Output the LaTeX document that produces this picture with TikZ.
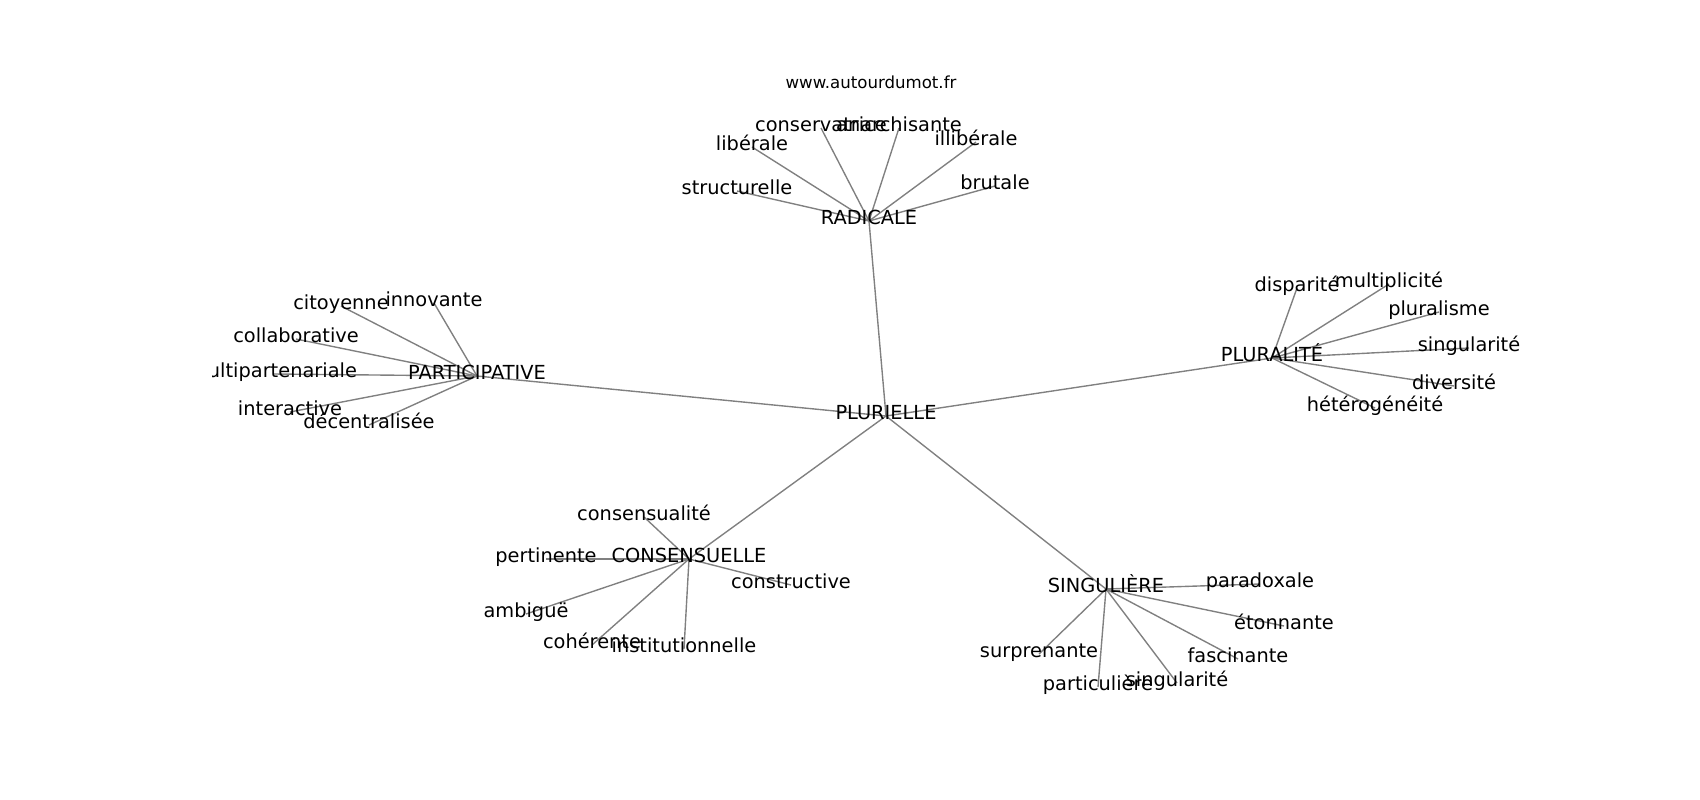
\documentclass[tikz,border=0pt]{standalone}
\usepackage{fontspec}
\setmainfont{DejaVu Sans}
\usetikzlibrary{backgrounds}

\begin{document}
\begin{tikzpicture}[x=0.254mm, y=-0.254mm,
        mot/.style={inner sep=0pt, font=\fontsize{14}{17}\selectfont, text height=0.76em, text depth=0.24em},
        lien/.style={gray, line width=1pt}]
        \useasboundingbox (0,0) rectangle (1700,800);
        \node [font=\fontsize{12}{14}\selectfont, anchor=base, inner sep=0pt] (titre) at (871,88) {www.autourdumot.fr};
        \begin{scope}
        \clip (212.5,96) rectangle (1530,712);
        \node [mot] (plurielle) at (886,416) {PLURIELLE};
        % radicale
        \node [mot] (radicale) at (869,221) {RADICALE};
        \node [mot] (structurelle) at (737,191) {structurelle};
        \node [mot] (liberale) at (752,147) {libérale};
        \node [mot] (conservatrice) at (821,128) {conservatrice};
        \node [mot] (anarchisante) at (899,128) {anarchisante};
        \node [mot] (illiberale) at (976,142) {illibérale};
        \node [mot] (brutale) at (995,186) {brutale};
        % participative
        \node [mot] (participative) at (477,376) {PARTICIPATIVE};
        \node [mot] (citoyenne) at (341,306) {citoyenne};
        \node [mot] (innovante) at (434,303) {innovante};
        \node [mot] (collaborative) at (296,339) {collaborative};
        \node [mot] (multipartenariale) at (273,374) {multipartenariale};
        \node [mot] (interactive) at (290,412) {interactive};
        \node [mot] (decentralisee) at (369,425) {décentralisée};
        % pluralite
        \node [mot] (pluralite) at (1272,358) {PLURALITÉ};
        \node [mot] (disparite) at (1297,288) {disparité};
        \node [mot] (multiplicite) at (1389,284) {multiplicité};
        \node [mot] (pluralisme) at (1439,312) {pluralisme};
        \node [mot] (singularite) at (1469,348) {singularité};
        \node [mot] (diversite) at (1454,386) {diversité};
        \node [mot] (heterogeneite) at (1375,408) {hétérogénéité};
        % consensuelle
        \node [mot] (consensuelle) at (689,559) {CONSENSUELLE};
        \node [mot] (consensualite) at (644,517) {consensualité};
        \node [mot] (pertinente) at (546,559) {pertinente};
        \node [mot] (constructive) at (791,585) {constructive};
        \node [mot] (ambigue) at (526,614) {ambiguë};
        \node [mot] (coherente) at (592,645) {cohérente};
        \node [mot] (institutionnelle) at (684,649) {institutionnelle};
        % singuliere
        \node [mot] (singuliere) at (1106,589) {SINGULIÈRE};
        \node [mot] (paradoxale) at (1260,584) {paradoxale};
        \node [mot] (etonnante) at (1284,626) {étonnante};
        \node [mot] (surprenante) at (1039,654) {surprenante};
        \node [mot] (fascinante) at (1238,659) {fascinante};
        \node [mot] (particuliere) at (1098,687) {particulière};
        \node [mot] (singularitebis) at (1177,683) {singularité};
        \end{scope}
        \begin{scope}[on background layer]
        \draw [lien] (plurielle.center) -- (radicale.center);
        \draw [lien] (plurielle.center) -- (participative.center);
        \draw [lien] (plurielle.center) -- (pluralite.center);
        \draw [lien] (plurielle.center) -- (consensuelle.center);
        \draw [lien] (plurielle.center) -- (singuliere.center);
        \draw [lien] (radicale.center) -- (structurelle.center);
        \draw [lien] (radicale.center) -- (liberale.center);
        \draw [lien] (radicale.center) -- (conservatrice.center);
        \draw [lien] (radicale.center) -- (anarchisante.center);
        \draw [lien] (radicale.center) -- (illiberale.center);
        \draw [lien] (radicale.center) -- (brutale.center);
        \draw [lien] (participative.center) -- (citoyenne.center);
        \draw [lien] (participative.center) -- (innovante.center);
        \draw [lien] (participative.center) -- (collaborative.center);
        \draw [lien] (participative.center) -- (multipartenariale.center);
        \draw [lien] (participative.center) -- (interactive.center);
        \draw [lien] (participative.center) -- (decentralisee.center);
        \draw [lien] (pluralite.center) -- (disparite.center);
        \draw [lien] (pluralite.center) -- (multiplicite.center);
        \draw [lien] (pluralite.center) -- (pluralisme.center);
        \draw [lien] (pluralite.center) -- (singularite.center);
        \draw [lien] (pluralite.center) -- (diversite.center);
        \draw [lien] (pluralite.center) -- (heterogeneite.center);
        \draw [lien] (consensuelle.center) -- (consensualite.center);
        \draw [lien] (consensuelle.center) -- (pertinente.center);
        \draw [lien] (consensuelle.center) -- (constructive.center);
        \draw [lien] (consensuelle.center) -- (ambigue.center);
        \draw [lien] (consensuelle.center) -- (coherente.center);
        \draw [lien] (consensuelle.center) -- (institutionnelle.center);
        \draw [lien] (singuliere.center) -- (paradoxale.center);
        \draw [lien] (singuliere.center) -- (etonnante.center);
        \draw [lien] (singuliere.center) -- (surprenante.center);
        \draw [lien] (singuliere.center) -- (fascinante.center);
        \draw [lien] (singuliere.center) -- (particuliere.center);
        \draw [lien] (singuliere.center) -- (singularitebis.center);
        \end{scope}
\end{tikzpicture}
\end{document}
